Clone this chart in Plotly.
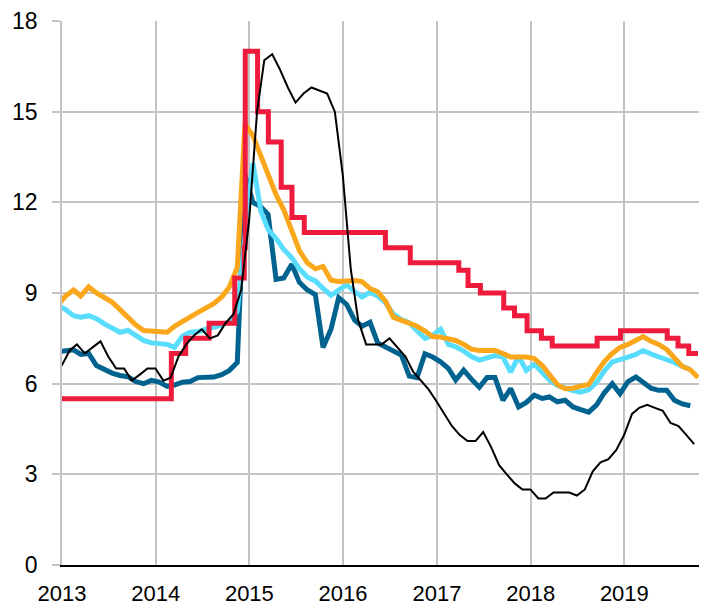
import pandas as pd
import plotly.graph_objects as go

# ---- data ----
# thick series: monthly, mid-month, Dec 2012 .. Oct 2019
orange_vals = [8.6, 8.9, 9.1, 8.9, 9.2, 9.0, 8.85, 8.7, 8.45, 8.2,
               7.95, 7.76, 7.75, 7.72, 7.7, 7.9, 8.07, 8.22, 8.36, 8.5,
               8.65, 8.87, 9.2, 9.85, 14.6, 14.2, 13.5, 12.95, 12.25, 11.75,
               11.1, 10.4, 10.0, 9.8, 9.88, 9.42, 9.38, 9.41, 9.41, 9.38,
               9.15, 9.04, 8.72, 8.2, 8.1, 8.03, 7.9, 7.74, 7.56, 7.54,
               7.5, 7.43, 7.3, 7.14, 7.1, 7.1, 7.1, 7.0, 6.88, 6.88,
               6.88, 6.83, 6.6, 6.3, 5.97, 5.83, 5.85, 5.92, 5.97, 6.37,
               6.73, 7.0, 7.2, 7.3, 7.45, 7.56, 7.4, 7.3, 7.13, 6.88,
               6.57, 6.46, 6.2]
cyan_vals = [8.6, 8.45, 8.25, 8.2, 8.25, 8.15, 7.98, 7.82, 7.7, 7.76,
             7.6, 7.43, 7.35, 7.33, 7.3, 7.2, 7.57, 7.7, 7.72, 7.8,
             7.85, 7.94, 8.05, 8.4, 10.9, 13.3, 11.7, 11.1, 10.8, 10.44,
             10.17, 9.8, 9.52, 9.4, 9.15, 8.92, 9.1, 9.27, 9.05, 8.87,
             9.02, 8.9, 8.67, 8.3, 8.12, 8.02, 7.75, 7.5, 7.6, 7.8,
             7.3, 7.22, 7.08, 6.9, 6.78, 6.85, 6.93, 6.88, 6.38, 6.9,
             6.44, 6.65, 6.38, 6.12, 5.94, 5.85, 5.77, 5.72, 5.8, 6.05,
             6.42, 6.72, 6.82, 6.88, 6.97, 7.1, 6.98, 6.89, 6.8, 6.7,
             6.57, 6.47]
blue_vals = [7.05, 7.1, 7.12, 6.97, 7.0, 6.6, 6.45, 6.35, 6.27, 6.23,
             6.07, 6.0, 6.11, 6.05, 5.91, 5.95, 6.05, 6.07, 6.2, 6.22,
             6.22, 6.3, 6.44, 6.7, 12.9, 12.0, 11.85, 11.6, 9.45, 9.5,
             9.95, 9.35, 9.1, 8.95, 7.2, 7.8, 8.85, 8.62, 8.1, 7.9,
             8.03, 7.35, 7.22, 7.12, 6.95, 6.25, 6.2, 6.99, 6.88, 6.72,
             6.5, 6.12, 6.45, 6.15, 5.88, 6.2, 6.2, 5.45, 5.84, 5.23,
             5.38, 5.62, 5.51, 5.56, 5.4, 5.45, 5.23, 5.14, 5.06, 5.3,
             5.7, 6.0, 5.67, 6.07, 6.22, 6.05, 5.85, 5.78, 5.78, 5.45,
             5.33, 5.27]
# black series: month-end, Dec 2012 .. Sep 2019
black_vals = [6.6,
              7.1, 7.3, 7.0, 7.2, 7.4, 6.9, 6.5, 6.5, 6.1, 6.3, 6.5, 6.5,
              6.1, 6.2, 6.9, 7.3, 7.6, 7.8, 7.5, 7.6, 8.0, 8.3, 9.1, 11.4,
              15.0, 16.7, 16.9, 16.4, 15.8, 15.3, 15.6, 15.8, 15.7, 15.6, 15.0, 12.9,
              9.8, 8.1, 7.3, 7.3, 7.3, 7.5, 7.2, 6.9, 6.4, 6.1, 5.8, 5.4,
              5.0, 4.6, 4.3, 4.1, 4.1, 4.4, 3.9, 3.3, 3.0, 2.7, 2.5, 2.5,
              2.2, 2.2, 2.4, 2.4, 2.4, 2.3, 2.5, 3.1, 3.4, 3.5, 3.8, 4.3,
              5.0, 5.2, 5.3, 5.2, 5.1, 4.7, 4.6, 4.3, 4.0]
# red step series: decision dates and levels
red_dates = ["2013-01-01", "2014-03-03", "2014-04-28", "2014-07-28", "2014-11-05",
             "2014-12-12", "2014-12-16", "2015-02-02", "2015-03-16", "2015-05-05",
             "2015-06-16", "2015-08-03", "2016-06-14", "2016-09-19", "2017-03-27",
             "2017-05-02", "2017-06-19", "2017-09-18", "2017-10-30", "2017-12-18",
             "2018-02-12", "2018-03-26", "2018-09-17", "2018-12-17", "2019-06-17",
             "2019-07-29", "2019-09-09", "2019-10-15"]
red_vals = [5.5, 7.0, 7.5, 8.0, 9.5, 10.5, 17.0, 15.0, 14.0, 12.5,
            11.5, 11.0, 10.5, 10.0, 9.75, 9.25, 9.0, 8.5, 8.25, 7.75,
            7.5, 7.25, 7.5, 7.75, 7.5, 7.25, 7.0, 7.0]
y_ticks = [0, 3, 6, 9, 12, 15, 18]
x_ticks = ["2013-01-01", "2014-01-01", "2015-01-01", "2016-01-01",
           "2017-01-01", "2018-01-01", "2019-01-01"]
x_labels = ["2013", "2014", "2015", "2016", "2017", "2018", "2019"]

mid_dates = pd.date_range("2012-12-01", periods=len(orange_vals), freq="MS") + pd.Timedelta(days=14)
end_dates = pd.date_range("2013-01-01", periods=len(black_vals), freq="MS") - pd.Timedelta(days=1)

fig = go.Figure()
fig.add_trace(go.Scatter(x=mid_dates[:len(blue_vals)], y=blue_vals, mode="lines",
                         line=dict(color="#00628F", width=5)))
fig.add_trace(go.Scatter(x=mid_dates[:len(cyan_vals)], y=cyan_vals, mode="lines",
                         line=dict(color="#58DDFF", width=5)))
fig.add_trace(go.Scatter(x=mid_dates, y=orange_vals, mode="lines",
                         line=dict(color="#FBA71B", width=5)))
fig.add_trace(go.Scatter(x=red_dates, y=red_vals, mode="lines", line_shape="hv",
                         line=dict(color="#EF1B3C", width=5)))
fig.add_trace(go.Scatter(x=end_dates, y=black_vals, mode="lines",
                         line=dict(color="#000000", width=2)))

font = dict(family="Liberation Sans, Arial, sans-serif", size=23, color="#000000")
fig.update_layout(
    width=699, height=599,
    margin=dict(l=54, r=0, t=13, b=42, autoexpand=False),
    paper_bgcolor="white", plot_bgcolor="white",
    showlegend=False, font=font,
    xaxis=dict(type="date", range=["2013-01-01", "2019-11-19"],
               tickvals=x_ticks, ticktext=x_labels, automargin=False,
               showgrid=True, gridcolor="#C3C3C3", gridwidth=1.5,
               showline=True, linecolor="#000000", linewidth=1.5,
               ticks="", ticklabelstandoff=8, zeroline=False,
               tickfont=dict(size=22),
               ticklabeloverflow="allow"),
    yaxis=dict(range=[0, 18], tickvals=y_ticks, automargin=False,
               showgrid=True, gridcolor="#C3C3C3", gridwidth=1.5,
               showline=True, linecolor="#C3C3C3", linewidth=1.5,
               ticks="outside", ticklen=8, tickcolor="#C3C3C3", tickwidth=1.5,
               ticklabelstandoff=10, zeroline=False,
               ticklabeloverflow="allow"),
)
fig.write_html("out.html")
